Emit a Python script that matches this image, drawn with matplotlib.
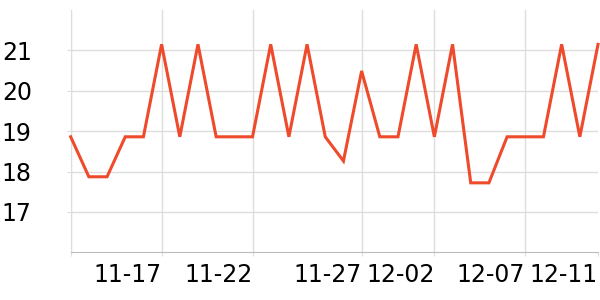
import numpy as np
import matplotlib
matplotlib.use('Agg')
import matplotlib.pyplot as plt

# daily readings, one per point, evenly spaced
values = [18.86, 17.87, 17.87, 18.86, 18.86, 21.15, 18.86, 21.15, 18.86, 18.86,
          18.86, 21.15, 18.86, 21.15, 18.86, 18.26, 20.49, 18.86, 18.86, 21.15,
          18.86, 21.15, 17.72, 17.72, 18.86, 18.86, 18.86, 21.15, 18.86, 21.15]
tick_pos = [0, 5, 10, 16, 20, 25, 29]
tick_labels = ['', '11-17', '11-22', '11-27', '12-02', '12-07', '12-11']
y_ticks = [17, 18, 19, 20, 21]

fig = plt.figure(figsize=(6, 3), dpi=100)
ax = fig.add_axes([0.1178, 0.159, 0.9967 - 0.1178, 0.9667 - 0.159])

x = np.arange(len(values))
ax.plot(x, values, color='#ee4a2b', lw=2.2, solid_joinstyle='miter', zorder=3, clip_on=False)

ax.set_xlim(0, len(values) - 1)
ax.set_ylim(16, 22)
ax.set_yticks(y_ticks)
ax.set_xticks(tick_pos)
ax.set_xticklabels(tick_labels, ha='right')

ax.grid(True, color='#dddddd', lw=1)
ax.set_axisbelow(True)
# no gridline at the right edge
ax.get_xgridlines()[-1].set_visible(False)
for s in ['top', 'right']:
    ax.spines[s].set_visible(False)
ax.spines['left'].set_color('#dddddd')
ax.spines['bottom'].set_color('#bbbbbb')
ax.tick_params(axis='y', length=3, color='#dddddd', labelsize=17, pad=25)
ax.tick_params(axis='x', length=3, color='#dddddd', labelsize=17, pad=5)

plt.savefig('out.png', dpi=100)
